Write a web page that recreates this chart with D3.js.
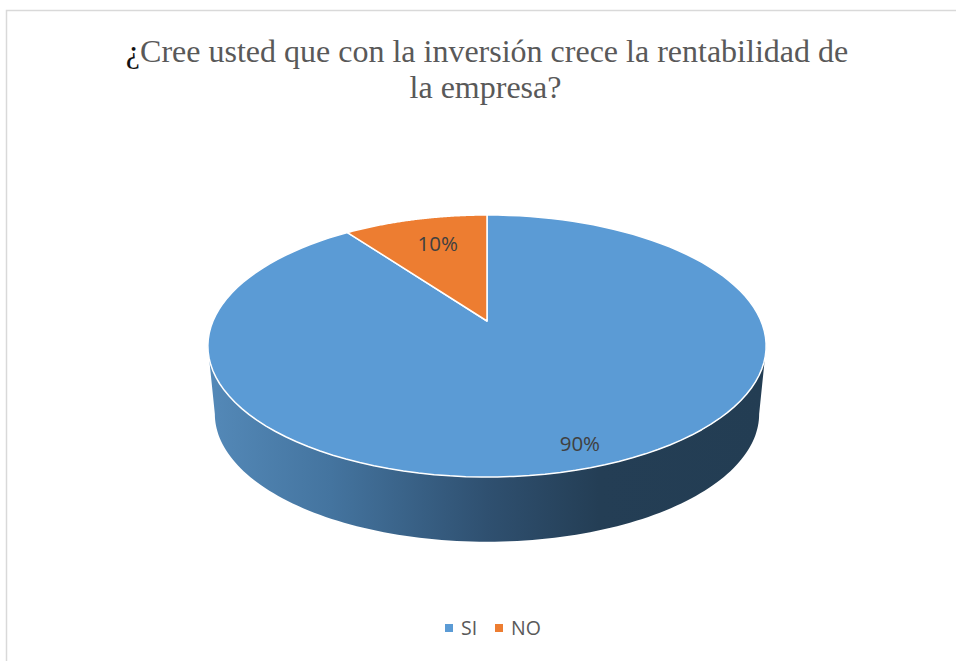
<!DOCTYPE html>
<html>
<head>
<meta charset="utf-8">
<script src="https://cdn.jsdelivr.net/npm/d3@7"></script>
<style>
  html, body { margin: 0; padding: 0; background: #fff; overflow: hidden; }
  svg { display: block; }
</style>
</head>
<body>
<div id="pie"></div>
<script>
// Daten
const categories = ["SI", "NO"];
const values = [90, 10];
const titleLines = ["Cree usted que con la inversión crece la rentabilidad de", "la empresa?"];

const width = 956;
const height = 661;

const colors = ["#5B9BD5", "#ED7D31"];

// Perspektive der Scheibe: Kreis (X, Y) -> Bildschirm
const apex = { x: 487, y: 321 };
const scaleX = 274;
const scaleY = 65;
const persp = -0.1908;
const depth = { dy: 68, shrink: 0.975, cy: 346 };

const project = (angle, r = 1) => {
  const X = r * Math.sin(angle);
  const Y = -r * Math.cos(angle);
  const w = 1 + persp * Y;
  return [apex.x + scaleX * X / w, (scaleY * Y + apex.y) / w];
};

// Unterkante: gleiche Ellipse, etwas kleiner und nach unten geschoben
const projectBottom = angle => {
  const [x, y] = project(angle);
  return [
    apex.x + (x - apex.x) * depth.shrink,
    depth.cy + (y - depth.cy) * depth.shrink + depth.dy
  ];
};

const line = d3.line();
const arcSteps = (a0, a1) => d3.range(0, 121).map(i => a0 + (a1 - a0) * i / 120);

const svg = d3.select("#pie")
  .append("svg")
  .attr("width", width)
  .attr("height", height)
  .attr("viewBox", [0, 0, width, height]);

// Verlauf der Seitenwand
const wallStops = [
  [0, "#5489b8"],
  [0.22, "#44749f"],
  [0.5, "#2f5070"],
  [0.7, "#243e55"],
  [1, "#233d53"]
];
const gradient = svg.append("defs")
  .append("linearGradient")
  .attr("id", "wall")
  .attr("x1", "0")
  .attr("x2", "1")
  .attr("y1", "0")
  .attr("y2", "0");
gradient.selectAll("stop")
  .data(wallStops)
  .join("stop")
  .attr("offset", d => d[0])
  .attr("stop-color", d => d[1]);

// Rahmen, rechts und unten abgeschnitten
svg.append("path")
  .attr("d", line([[6.5, height], [6.5, 10.5], [width, 10.5]]))
  .attr("fill", "none")
  .attr("stroke", "#d9d9d9")
  .attr("stroke-width", 1.5);

// Titel, das Fragezeichen am Anfang ist im Original dunkler
const title = svg.append("g")
  .selectAll("text")
  .data(titleLines)
  .join("text")
  .attr("x", (d, i) => i === 0 ? 487 : 485.5)
  .attr("y", (d, i) => 61.5 + i * 36.5)
  .attr("text-anchor", "middle")
  .attr("font-family", "'Liberation Serif', serif")
  .attr("font-size", 32)
  .attr("fill", "#595959");
title.filter((d, i) => i === 0)
  .append("tspan")
  .attr("fill", "#111")
  .text("¿");
title.append("tspan")
  .text(d => d);

// Seitenwand
const tangent = Math.acos(persp);
const wallTop = arcSteps(tangent, 2 * Math.PI - tangent).map(a => project(a));
const wallBottom = arcSteps(2 * Math.PI - tangent, tangent).map(projectBottom);
svg.append("path")
  .attr("d", line(wallTop.concat(wallBottom)) + "Z")
  .attr("fill", "url(#wall)");

// Tortenstücke, SI beginnt bei 12 Uhr im Uhrzeigersinn
const pieGenerator = d3.pie()
  .sort(null)
  .startAngle(0)
  .endAngle(2 * Math.PI);
const slices = pieGenerator(values);

const slicePath = d => {
  const pts = arcSteps(d.startAngle, d.endAngle).map(a => project(a));
  return line([[apex.x, apex.y]].concat(pts)) + "Z";
};

svg.append("g")
  .selectAll("path")
  .data(slices)
  .join("path")
  .attr("d", slicePath)
  .attr("fill", (d, i) => colors[i])
  .attr("stroke", "#fff")
  .attr("stroke-width", 1.5)
  .attr("stroke-linejoin", "round");

// Beschriftung
const labelRadius = [0.865, 0.725];
const labelShift = [6, 5];
svg.append("g")
  .selectAll("text")
  .data(slices)
  .join("text")
  .attr("x", (d, i) => project((d.startAngle + d.endAngle) / 2, labelRadius[i])[0] + labelShift[i])
  .attr("y", (d, i) => project((d.startAngle + d.endAngle) / 2, labelRadius[i])[1])
  .attr("dy", "0.35em")
  .attr("text-anchor", "middle")
  .attr("font-family", "'Open Sans', sans-serif")
  .attr("font-size", 20.5)
  .attr("fill", "#404040")
  .text((d, i) => `${values[i]}%`);

// Legende
const legendX = d3.scaleOrdinal().domain(categories).range([445, 495]);
const legend = svg.append("g")
  .selectAll("g")
  .data(categories)
  .join("g")
  .attr("transform", d => `translate(${legendX(d)}, 628)`);
legend.append("rect")
  .attr("x", 0)
  .attr("y", -4)
  .attr("width", 8)
  .attr("height", 8)
  .attr("fill", (d, i) => colors[i]);
legend.append("text")
  .attr("x", 16)
  .attr("dy", "0.35em")
  .attr("font-family", "'Open Sans', sans-serif")
  .attr("font-size", 19.5)
  .attr("fill", "#595959")
  .text(d => d);
</script>
</body>
</html>
